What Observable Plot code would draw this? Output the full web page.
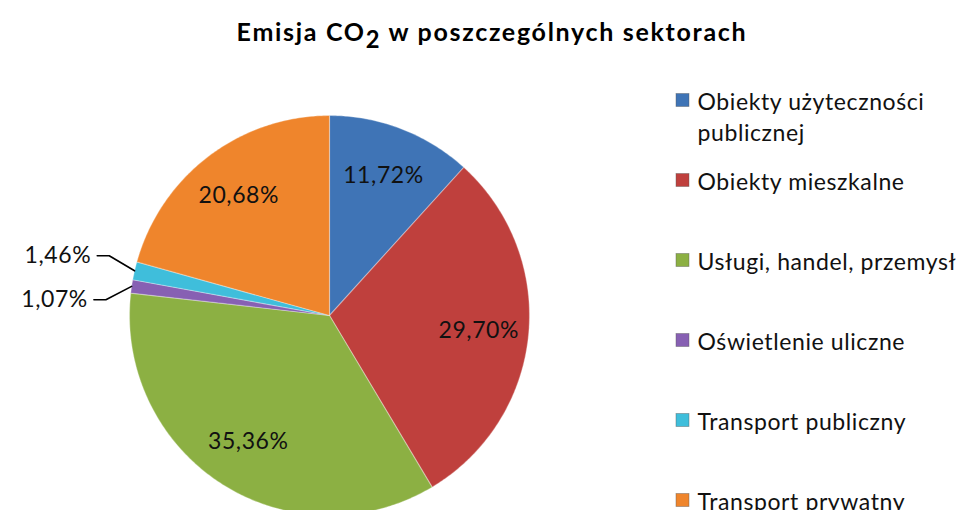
<!DOCTYPE html>
<html><head><meta charset="utf-8">
<script src="https://cdn.jsdelivr.net/npm/d3@7"></script>
<script src="https://cdn.jsdelivr.net/npm/@observablehq/plot@0.6"></script>
<style>
html,body{margin:0;padding:0;background:#fff;}
body{width:962px;height:510px;overflow:hidden;font-family:Lato,"Open Sans",sans-serif;}
#title{height:65px;box-sizing:border-box;padding-top:19px;padding-left:22px;text-align:center;font-weight:bold;font-size:25px;line-height:24px;letter-spacing:1.7px;color:#000;white-space:nowrap;}
#title .sub{font-size:0.95em;position:relative;top:7px;}
#chart svg{display:block;}
</style></head><body>
<div id="title">Emisja CO<span class="sub">2</span> w poszczególnych sektorach</div>
<div id="chart"></div>
<script>
const categories = ["Obiekty użyteczności publicznej", "Obiekty mieszkalne", "Usługi, handel, przemysł", "Oświetlenie uliczne", "Transport publiczny", "Transport prywatny"];
const legendLabels = ["Obiekty użyteczności\npublicznej", "Obiekty mieszkalne", "Usługi, handel, przemysł", "Oświetlenie uliczne", "Transport publiczny", "Transport prywatny"];
const values = [11.72, 29.70, 35.36, 1.07, 1.46, 20.68];
const valueLabels = ["11,72%", "29,70%", "35,36%", "1,07%", "1,46%", "20,68%"];
const colors = ["#3f74b6", "#bf403d", "#8cb043", "#8760b3", "#3fbedb", "#ef852c"];

const W = 962, H = 445, cx = 329, cy = 250, R = 200;
const data = categories.map((c, i) => ({name: c, value: values[i], label: valueLabels[i], legend: legendLabels[i], i}));
const arcs = d3.pie().sort(null).value(d => d.value)(data);
const pt = (a, r) => [cx + r * Math.sin(a), cy - r * Math.cos(a)];

// slice polygons
const slicePts = [];
for (const a of arcs) {
  slicePts.push({name: a.data.name, x: cx, y: cy});
  const n = Math.max(2, Math.ceil((a.endAngle - a.startAngle) / 0.01));
  for (let k = 0; k <= n; k++) {
    const t = a.startAngle + (a.endAngle - a.startAngle) * k / n;
    const [x, y] = pt(t, R);
    slicePts.push({name: a.data.name, x, y});
  }
}

// labels: inside for big slices, outside for small ones
const inside = [], outside = [];
for (const a of arcs) {
  const mid = (a.startAngle + a.endAngle) / 2;
  if (a.data.value >= 5) {
    const [x, y] = pt(mid, R * 0.75);
    inside.push({label: a.data.label, x, y});
  } else {
    const [ex, ey] = pt(mid, R);
    const [ox, oy] = pt(mid, R * 1.13);
    outside.push({name: a.data.name, label: a.data.label, ex, ey, ox, oy});
  }
}
// spread outside labels vertically
outside.sort((p, q) => p.oy - q.oy);
const gap = 44;
const meanY = d3.mean(outside, d => d.oy) + 4;
outside.forEach((d, k) => { d.oy = meanY + (k - (outside.length - 1) / 2) * gap; });
const leaderPts = [];
for (const d of outside) {
  leaderPts.push({name: d.name, x: d.ex, y: d.ey});
  leaderPts.push({name: d.name, x: d.ox, y: d.oy});
  leaderPts.push({name: d.name, x: d.ox - 12, y: d.oy});
}

// legend
const legX = 676, legY0 = 35, legStep = 80, legSq = 13, legLine = 31;
const legend = data.map(d => {
  const y = legY0 + d.i * legStep;
  const lines = d.legend.split("\n").length;
  return {name: d.name, text: d.legend, x1: legX, x2: legX + legSq, y1: y - legSq / 2, y2: y + legSq / 2, tx: legX + 21, ty: y + (lines - 1) * legLine / 2};
});

const chart = Plot.plot({
  width: W, height: H, margin: 0,
  style: {fontFamily: "Lato, 'Open Sans', sans-serif", background: "#fff", letterSpacing: "0.6px"},
  x: {domain: [0, W], range: [0, W], axis: null},
  y: {domain: [0, H], range: [0, H], axis: null},
  color: {domain: categories, range: colors},
  marks: [
    Plot.line(slicePts, {x: "x", y: "y", z: "name", fill: "name", stroke: "#ffffff", strokeOpacity: 0.3, strokeWidth: 1.2, curve: "linear-closed"}),
    Plot.line(leaderPts, {x: "x", y: "y", z: "name", stroke: "#000", strokeWidth: 1.6}),
    Plot.text(inside, {x: "x", y: "y", text: "label", fontSize: 23, fill: "#111"}),
    Plot.text(outside, {x: d => d.ox - 12, y: "oy", text: "label", fontSize: 23, fill: "#111", textAnchor: "end", dx: -6}),
    Plot.rect(legend, {x1: "x1", x2: "x2", y1: "y1", y2: "y2", fill: "name", stroke: "#555", strokeOpacity: 0.5, strokeWidth: 0.8}),
    Plot.text(legend, {x: "tx", y: "ty", text: "text", textAnchor: "start", fontSize: 23, lineHeight: 1.35, fill: "#111"})
  ]
});
document.getElementById("chart").appendChild(chart);
</script>
</body></html>
